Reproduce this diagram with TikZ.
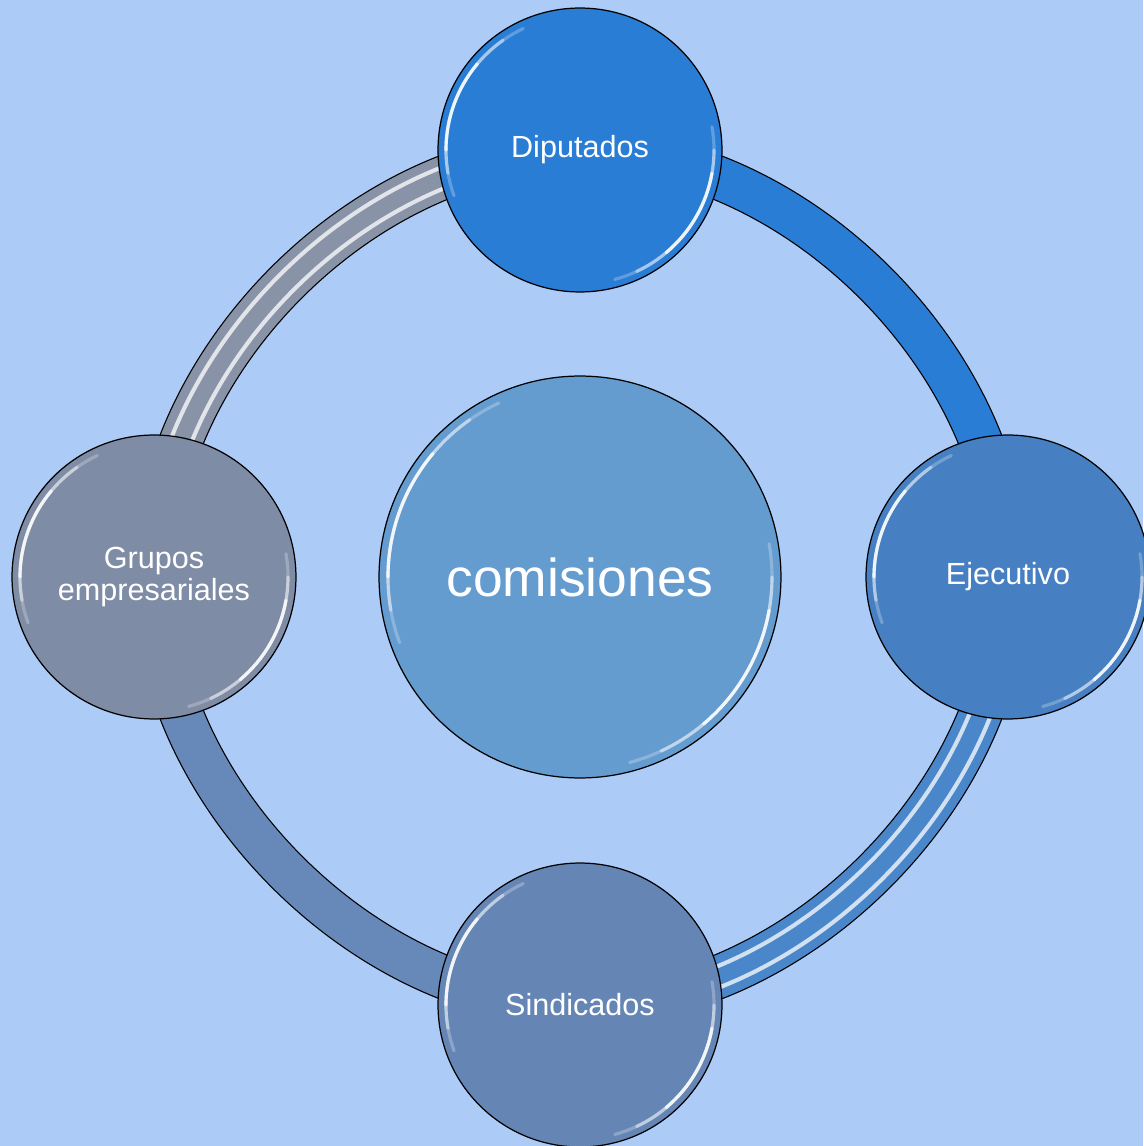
\documentclass[tikz,border=0pt]{standalone}
\usepackage{fontspec}
\setmainfont{Liberation Sans}
\definecolor{fondo}{RGB}{173,203,247}
\definecolor{cdip}{RGB}{42,125,212}
\definecolor{ceje}{RGB}{70,128,194}
\definecolor{csin}{RGB}{101,134,181}
\definecolor{cgru}{RGB}{127,140,165}
\definecolor{ccom}{RGB}{100,156,208}
\definecolor{reje}{RGB}{74,134,202}
\definecolor{rsin}{RGB}{102,137,185}
\definecolor{rgru}{RGB}{136,147,168}
\pgfdeclarelayer{fondo}
\pgfdeclarelayer{anillo}
\pgfsetlayers{fondo,anillo,main}
% shine on the rim of a ball: node, radius
\newcommand{\brillo}[2]{%
  \foreach \a/\b/\o in {115/200/.25,125/190/.45,140/180/.8,285/370/.25,295/360/.45,310/350/.8}
    \draw[white,opacity=\o,line width=1.8pt,line cap=round] ([shift={(\a:#2)}]#1.center) arc[start angle=\a,end angle=\b,radius=#2];}
\begin{document}
\begin{tikzpicture}[x=.02cm,y=.02cm,
  every node/.style={draw=black,circle,line width=.7pt,text=white,inner sep=0pt,align=center},
  sat/.style={minimum size=5.68cm,font=\fontsize{17.4}{18.5}\selectfont},
  ring/.style={draw=black,line width=.7pt,double distance=.84cm},
  stripe/.style={line width=2.4pt,double distance=.32cm}]
  \useasboundingbox (-580,-569) rectangle (563,577);
  \begin{pgfonlayer}{fondo}
    \fill[fondo] (-580,-569) rectangle (563,577);
  \end{pgfonlayer}
  \node[sat,fill=cdip] (dip) at (0,427){Diputados};
  \node[sat,fill=ceje] (eje) at (428,0){Ejecutivo};
  \node[sat,fill=csin] (sin) at (0,-428){Sindicados};
  \node[sat,fill=cgru] (gru) at (-426,0){Grupos\\empresariales};
  \node[fill=ccom,minimum size=8.04cm,font=\fontsize{30.4}{32}\selectfont] (com) at (0,0){comisiones};
  \brillo{dip}{134}
  \brillo{eje}{134}
  \brillo{sin}{134}
  \brillo{gru}{134}
  \brillo{com}{192}
  \begin{pgfonlayer}{anillo}
    \draw[ring,double=cdip] (dip.center) to[bend left=45,looseness=.91] (eje.center);
    \draw[ring,double=reje] (eje.center) to[bend left=45,looseness=.91] (sin.center);
    \draw[stripe,draw=white!75!reje,double=reje] (eje.center) to[bend left=45,looseness=.91] (sin.center);
    \draw[ring,double=rsin] (sin.center) to[bend left=45,looseness=.91] (gru.center);
    \draw[ring,double=rgru] (gru.center) to[bend left=45,looseness=.91] (dip.center);
    \draw[stripe,draw=white!75!rgru,double=rgru] (gru.center) to[bend left=45,looseness=.91] (dip.center);
  \end{pgfonlayer}
\end{tikzpicture}
\end{document}
